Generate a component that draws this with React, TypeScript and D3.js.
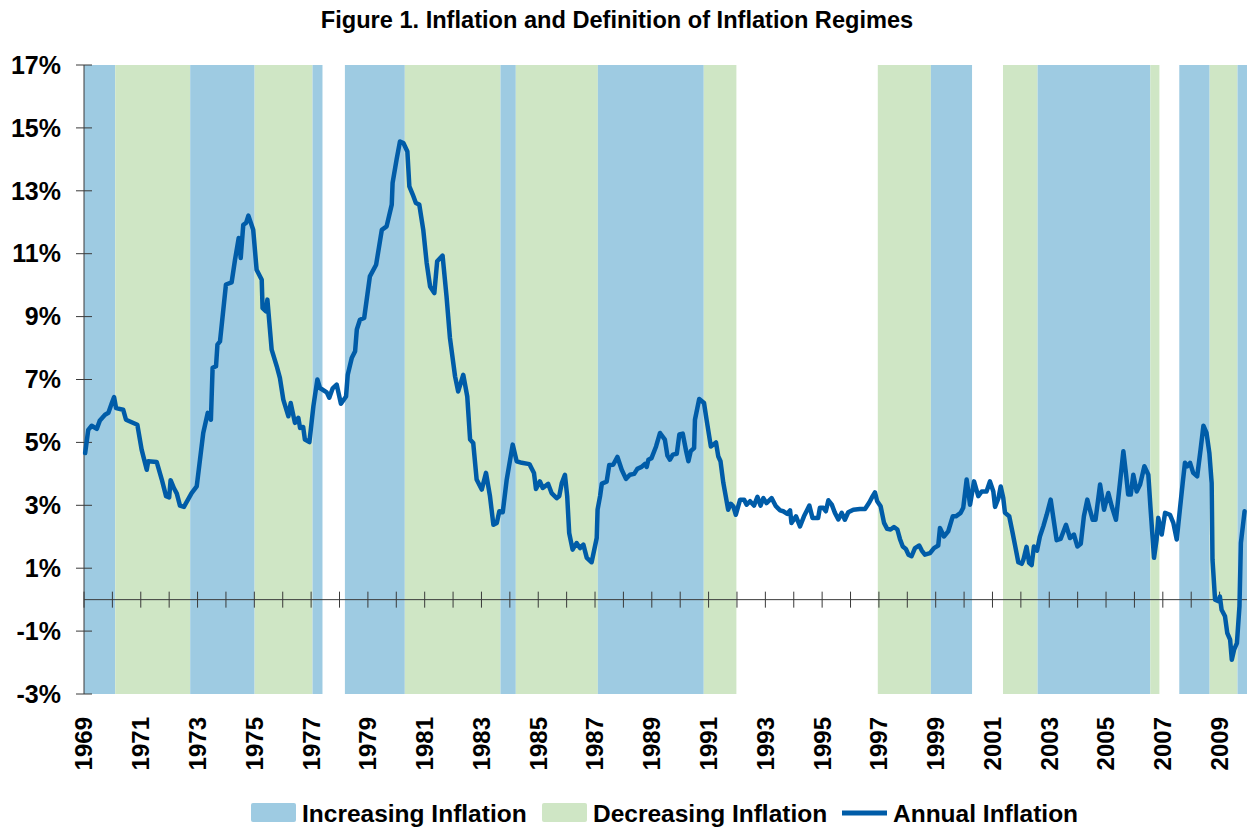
import * as d3 from 'd3';

const WIDTH = 1247;
const HEIGHT = 829;
const PLOT = { left: 84, top: 65, bottom: 694, yearPx: 28.39 };
const FONT = '"Liberation Sans", Arial, Helvetica, sans-serif';

const COLOR_INC = '#9ecbe2';
const COLOR_DEC = '#cfe6c5';
const COLOR_LINE = '#005ca8';
const COLOR_AXIS = '#3a3a3a';

// inflation regimes, decimal years
const regimeStart = [1969.0, 1970.1, 1972.74, 1975.01, 1977.05, 1978.19, 1980.3, 1983.67, 1984.21, 1987.1, 1990.83, 1996.96, 1998.83, 2001.37, 2002.59, 2006.56, 2007.58, 2008.65, 2009.63];
const regimeEnd = [1970.1, 1972.74, 1975.01, 1977.05, 1977.4, 1980.3, 1983.67, 1984.21, 1987.1, 1990.83, 1991.98, 1998.83, 2000.28, 2002.59, 2006.56, 2006.88, 2008.65, 2009.63, 2010.0];
const regimeKind = ['inc', 'dec', 'inc', 'dec', 'inc', 'inc', 'dec', 'inc', 'dec', 'inc', 'dec', 'dec', 'inc', 'dec', 'inc', 'dec', 'inc', 'dec', 'inc'];

// annual inflation (decimal year, percent)
const obsYear = [
  1969.04, 1969.15, 1969.27, 1969.45, 1969.56, 1969.74, 1969.86, 1969.98, 1970.06, 1970.13,
  1970.38, 1970.48, 1970.88, 1971.03, 1971.21, 1971.26, 1971.56, 1971.74, 1971.89, 1972.0,
  1972.05, 1972.17, 1972.27, 1972.38, 1972.52, 1972.79, 1972.97, 1973.2, 1973.36, 1973.47,
  1973.53, 1973.65, 1973.7, 1973.79, 1974.0, 1974.2, 1974.32, 1974.45, 1974.52, 1974.61,
  1974.71, 1974.79, 1974.96, 1975.08, 1975.26, 1975.29, 1975.41, 1975.46, 1975.61, 1975.79,
  1975.9, 1976.02, 1976.2, 1976.28, 1976.43, 1976.55, 1976.61, 1976.72, 1976.78, 1976.94,
  1977.08, 1977.22, 1977.31, 1977.55, 1977.64, 1977.76, 1977.9, 1978.05, 1978.23, 1978.29,
  1978.43, 1978.55, 1978.61, 1978.72, 1978.87, 1979.07, 1979.29, 1979.49, 1979.66, 1979.84,
  1979.87, 1980.01, 1980.13, 1980.25, 1980.39, 1980.46, 1980.58, 1980.69, 1980.81, 1980.95,
  1981.07, 1981.19, 1981.34, 1981.44, 1981.63, 1981.77, 1981.89, 1982.07, 1982.18, 1982.36,
  1982.5, 1982.6, 1982.71, 1982.83, 1983.01, 1983.16, 1983.3, 1983.42, 1983.54, 1983.63,
  1983.75, 1983.89, 1984.1, 1984.24, 1984.42, 1984.69, 1984.85, 1984.92, 1985.06, 1985.16,
  1985.35, 1985.47, 1985.65, 1985.74, 1985.83, 1985.94, 1986.02, 1986.09, 1986.21, 1986.35,
  1986.47, 1986.59, 1986.71, 1986.88, 1987.06, 1987.09, 1987.18, 1987.24, 1987.41, 1987.5,
  1987.64, 1987.79, 1987.94, 1988.09, 1988.23, 1988.38, 1988.49, 1988.64, 1988.76, 1988.82,
  1988.88, 1988.99, 1989.15, 1989.29, 1989.46, 1989.55, 1989.64, 1989.74, 1989.88, 1989.97,
  1990.09, 1990.21, 1990.29, 1990.37, 1990.49, 1990.52, 1990.67, 1990.84, 1990.93, 1991.08,
  1991.26, 1991.34, 1991.42, 1991.52, 1991.69, 1991.78, 1991.87, 1991.96, 1992.01, 1992.11,
  1992.25, 1992.34, 1992.46, 1992.6, 1992.72, 1992.83, 1992.93, 1993.04, 1993.22, 1993.37,
  1993.52, 1993.63, 1993.77, 1993.87, 1993.92, 1994.08, 1994.22, 1994.36, 1994.55, 1994.66,
  1994.86, 1994.92, 1995.04, 1995.13, 1995.22, 1995.34, 1995.45, 1995.57, 1995.69, 1995.8,
  1995.92, 1996.1, 1996.33, 1996.51, 1996.66, 1996.78, 1996.86, 1996.94, 1997.06, 1997.18,
  1997.29, 1997.41, 1997.53, 1997.65, 1997.74, 1997.84, 1997.95, 1998.04, 1998.15, 1998.27,
  1998.42, 1998.51, 1998.62, 1998.8, 1998.94, 1999.09, 1999.15, 1999.29, 1999.44, 1999.6,
  1999.71, 1999.88, 1999.97, 2000.09, 2000.21, 2000.35, 2000.5, 2000.62, 2000.79, 2000.91,
  2001.03, 2001.09, 2001.21, 2001.29, 2001.38, 2001.44, 2001.59, 2001.71, 2001.79, 2001.91,
  2002.03, 2002.09, 2002.2, 2002.29, 2002.38, 2002.46, 2002.57, 2002.67, 2002.79, 2002.91,
  2003.05, 2003.17, 2003.26, 2003.4, 2003.59, 2003.73, 2003.87, 2003.99, 2004.11, 2004.22,
  2004.34, 2004.43, 2004.53, 2004.63, 2004.79, 2004.93, 2005.08, 2005.2, 2005.35, 2005.49,
  2005.61, 2005.7, 2005.78, 2005.87, 2005.96, 2006.08, 2006.2, 2006.35, 2006.49, 2006.57,
  2006.69, 2006.78, 2006.84, 2006.96, 2007.08, 2007.25, 2007.37, 2007.49, 2007.6, 2007.7,
  2007.78, 2007.86, 2007.96, 2008.07, 2008.21, 2008.33, 2008.43, 2008.54, 2008.64, 2008.72,
  2008.75, 2008.84, 2008.96, 2009.01, 2009.07, 2009.19, 2009.27, 2009.37, 2009.43, 2009.51,
  2009.61, 2009.7, 2009.75, 2009.88,
];
const obsValue = [
  4.66, 5.4, 5.53, 5.43, 5.7, 5.88, 5.94, 6.25, 6.44, 6.09,
  6.04, 5.72, 5.56, 4.77, 4.13, 4.4, 4.38, 3.82, 3.29, 3.25,
  3.8, 3.54, 3.37, 2.99, 2.95, 3.39, 3.6, 5.3, 5.94, 5.72,
  7.37, 7.42, 8.11, 8.21, 10.02, 10.09, 10.81, 11.5, 10.86, 11.92,
  11.98, 12.21, 11.76, 10.49, 10.17, 9.27, 9.17, 9.54, 7.95, 7.42,
  7.05, 6.36, 5.83, 6.25, 5.62, 5.78, 5.46, 5.49, 5.09, 5.01,
  6.15, 7.0, 6.73, 6.59, 6.42, 6.72, 6.84, 6.23, 6.46, 7.15,
  7.68, 7.9, 8.59, 8.9, 8.96, 10.28, 10.65, 11.76, 11.87, 12.56,
  13.25, 13.99, 14.57, 14.52, 14.25, 13.14, 12.88, 12.61, 12.56, 11.76,
  10.71, 9.96, 9.75, 10.76, 10.94, 9.64, 8.32, 7.1, 6.62, 7.15,
  6.46, 5.09, 4.98, 3.82, 3.5, 4.03, 3.29, 2.38, 2.44, 2.81,
  2.78, 3.82, 4.93, 4.4, 4.35, 4.31, 4.03, 3.52, 3.76, 3.55,
  3.68, 3.39, 3.23, 3.29, 3.71, 3.97, 3.29, 2.12, 1.59, 1.8,
  1.64, 1.75, 1.33, 1.19, 1.96, 2.86, 3.3, 3.69, 3.75, 4.28,
  4.29, 4.54, 4.13, 3.84, 3.97, 4.0, 4.16, 4.22, 4.32, 4.22,
  4.45, 4.5, 4.87, 5.3, 5.09, 4.58, 4.45, 4.61, 4.64, 5.25,
  5.28, 4.72, 4.4, 4.72, 4.82, 5.72, 6.38, 6.25, 5.72, 4.87,
  5.0, 4.56, 4.4, 3.71, 2.86, 3.05, 2.97, 2.7, 2.86, 3.18,
  3.18, 3.02, 3.13, 2.99, 3.27, 2.99, 3.23, 3.07, 3.23, 2.97,
  2.84, 2.81, 2.73, 2.84, 2.44, 2.65, 2.33, 2.65, 2.99, 2.6,
  2.6, 2.92, 2.92, 2.81, 3.16, 3.02, 2.76, 2.55, 2.76, 2.54,
  2.78, 2.86, 2.88, 2.88, 3.09, 3.29, 3.41, 3.13, 2.97, 2.44,
  2.25, 2.23, 2.31, 2.23, 1.93, 1.69, 1.61, 1.43, 1.38, 1.64,
  1.72, 1.56, 1.43, 1.48, 1.64, 1.72, 2.28, 2.01, 2.17, 2.65,
  2.65, 2.76, 2.92, 3.82, 3.02, 3.76, 3.29, 3.44, 3.44, 3.76,
  3.44, 2.95, 3.23, 3.6, 3.23, 2.76, 2.65, 2.12, 1.75, 1.19,
  1.14, 1.27, 1.68, 1.17, 1.1, 1.69, 1.56, 2.01, 2.33, 2.7,
  3.18, 2.44, 1.89, 1.93, 2.38, 1.96, 2.07, 1.69, 1.78, 2.65,
  3.18, 2.86, 2.54, 2.54, 3.66, 2.86, 3.39, 2.97, 2.54, 3.71,
  4.72, 4.03, 3.34, 3.34, 3.97, 3.44, 3.66, 4.24, 3.97, 2.86,
  1.33, 1.91, 2.6, 2.07, 2.76, 2.7, 2.44, 1.91, 2.86, 3.71,
  4.35, 4.24, 4.35, 4.03, 3.92, 4.77, 5.53, 5.3, 4.66, 3.71,
  1.27, 0.0, -0.05, 0.1, -0.32, -0.53, -1.06, -1.27, -1.91, -1.59,
  -1.38, -0.21, 1.8, 2.81,
];

const yTicks = [-3, -1, 1, 3, 5, 7, 9, 11, 13, 15, 17];
const xTickYears = d3.range(1969, 2011);
const xLabelYears = d3.range(1969, 2010, 2);

const legendItems = [
  { label: 'Increasing Inflation', kind: 'inc' },
  { label: 'Decreasing Inflation', kind: 'dec' },
  { label: 'Annual Inflation', kind: 'line' },
];

export default function App() {
  const x = d3
    .scaleLinear()
    .domain([1969, 2010])
    .range([PLOT.left, PLOT.left + 41 * PLOT.yearPx]);
  const y = d3.scaleLinear().domain([-3, 17]).range([PLOT.bottom, PLOT.top]);

  const line = d3
    .line<number>()
    .x((d) => x(obsYear[d]))
    .y((d) => y(obsValue[d]));
  const path = line(d3.range(obsYear.length)) ?? '';

  const regimes = regimeStart.map((s, i) => ({ s, e: regimeEnd[i], kind: regimeKind[i] }));

  // legend positions
  const legendX = [251, 542, 842];
  const legendY = 803;

  return (
    <div style={{ position: 'absolute', left: 0, top: 0, width: WIDTH, height: HEIGHT, background: '#fff' }}>
      <svg width={WIDTH} height={HEIGHT} style={{ display: 'block' }} fontFamily={FONT}>
        <rect width={WIDTH} height={HEIGHT} fill="#fff" />
        <text x={617} y={28} textAnchor="middle" fontSize={23.6} fontWeight="bold" fill="#000">
          Figure 1. Inflation and Definition of Inflation Regimes
        </text>

        {/* regime bands */}
        {regimes.map((r, i) => (
          <rect
            key={i}
            x={x(r.s)}
            y={y(17)}
            width={x(r.e) - x(r.s)}
            height={y(-3) - y(17)}
            fill={r.kind === 'inc' ? COLOR_INC : COLOR_DEC}
          />
        ))}

        {/* y axis */}
        <line x1={PLOT.left} x2={PLOT.left} y1={y(17)} y2={y(-3)} stroke={COLOR_AXIS} strokeWidth={1} />
        {yTicks.map((t) => (
          <g key={t}>
            <line x1={PLOT.left - 8} x2={PLOT.left + 8} y1={y(t)} y2={y(t)} stroke={COLOR_AXIS} strokeWidth={1} />
            <text x={61} y={y(t)} dy="0.35em" textAnchor="end" fontSize={25} fontWeight="bold" fill="#000">
              {`${t}%`}
            </text>
          </g>
        ))}

        {/* x axis at zero */}
        <line x1={PLOT.left} x2={WIDTH} y1={y(0)} y2={y(0)} stroke={COLOR_AXIS} strokeWidth={1} />
        {xTickYears.map((yr) => (
          <line key={yr} x1={x(yr)} x2={x(yr)} y1={y(0) - 8} y2={y(0) + 8} stroke={COLOR_AXIS} strokeWidth={1} />
        ))}
        {xLabelYears.map((yr) => (
          <text
            key={yr}
            transform={`translate(${x(yr)},717) rotate(-90)`}
            dy="0.35em"
            textAnchor="end"
            fontSize={24}
            fontWeight="bold"
            fill="#000"
          >
            {yr}
          </text>
        ))}

        {/* inflation line */}
        <path d={path} fill="none" stroke={COLOR_LINE} strokeWidth={4.5} strokeLinejoin="round" strokeLinecap="round" />

        {/* legend */}
        {legendItems.map((item, i) => (
          <g key={item.label} transform={`translate(${legendX[i]},${legendY})`}>
            {item.kind === 'line' ? (
              <line x1={0} x2={45} y1={10} y2={10} stroke={COLOR_LINE} strokeWidth={5} />
            ) : (
              <rect width={45} height={19} rx={2} fill={item.kind === 'inc' ? COLOR_INC : COLOR_DEC} />
            )}
            <text x={51} y={19} fontSize={24.5} fontWeight="bold" fill="#000">
              {item.label}
            </text>
          </g>
        ))}
      </svg>
    </div>
  );
}
